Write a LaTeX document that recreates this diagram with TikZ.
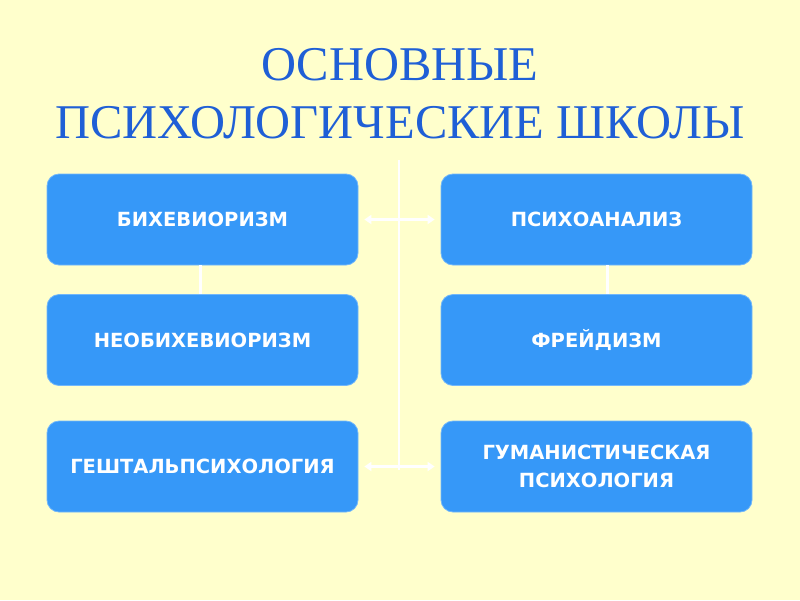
\documentclass[tikz,border=0pt]{standalone}
\usepackage{fontspec}
\setmainfont{Liberation Serif}
\newfontfamily\boxfont{DejaVu Sans}
\usetikzlibrary{arrows.meta}
\definecolor{bgc}{HTML}{FFFFCC}
\definecolor{boxc}{HTML}{3698F8}
\definecolor{titlec}{HTML}{1F5FD6}
\begin{document}
\begin{tikzpicture}[x=1pt,y=-1pt,
  schoolbox/.style={draw=boxc!70!white, line width=0.8pt, fill=boxc, rounded corners=12pt,
    minimum width=311pt, minimum height=91pt, inner sep=0pt, align=center,
    text=white, font=\boxfont\bfseries\fontsize{19.5}{28}\selectfont},
  link/.style={draw=white, line width=3pt},
  biarrow/.style={draw=white, line width=3pt, {Triangle[width=9pt,length=7pt]}-{Triangle[width=9pt,length=7pt]}, shorten <=6pt, shorten >=6pt},
  titletext/.style={text=titlec, font=\fontsize{48.5}{56}\selectfont, inner sep=0pt, anchor=base}
]
\fill[bgc] (0,0) rectangle (800,600);
\useasboundingbox (0,0) rectangle (800,600);
\node[titletext] (t1) at (400,80) {ОСНОВНЫЕ};
\node[titletext] (t2) at (400,138) {ПСИХОЛОГИЧЕСКИЕ ШКОЛЫ};
\coordinate (vtop) at (399,160);
\coordinate (vbot) at (399,470);
\draw[link, line width=2.5pt] (vtop) -- (vbot);
\node[schoolbox] (b1) at (202.5,219.5) {БИХЕВИОРИЗМ};
\node[schoolbox] (b2) at (202.5,340) {НЕОБИХЕВИОРИЗМ};
\node[schoolbox] (b3) at (202.5,466.5) {ГЕШТАЛЬПСИХОЛОГИЯ};
\node[schoolbox] (b4) at (596.5,219.5) {ПСИХОАНАЛИЗ};
\node[schoolbox] (b5) at (596.5,340) {ФРЕЙДИЗМ};
\node[schoolbox] (b6) at (596.5,466.5) {ГУМАНИСТИЧЕСКАЯ\\ПСИХОЛОГИЯ};
\draw[link] (b1.south -| 200,0) -- (b2.north -| 200,0);
\draw[link] (b4.south -| 607,0) -- (b5.north -| 607,0);
\draw[biarrow] (b1.east) -- (b4.west);
\draw[biarrow] (b3.east) -- (b6.west);
\end{tikzpicture}
\end{document}
